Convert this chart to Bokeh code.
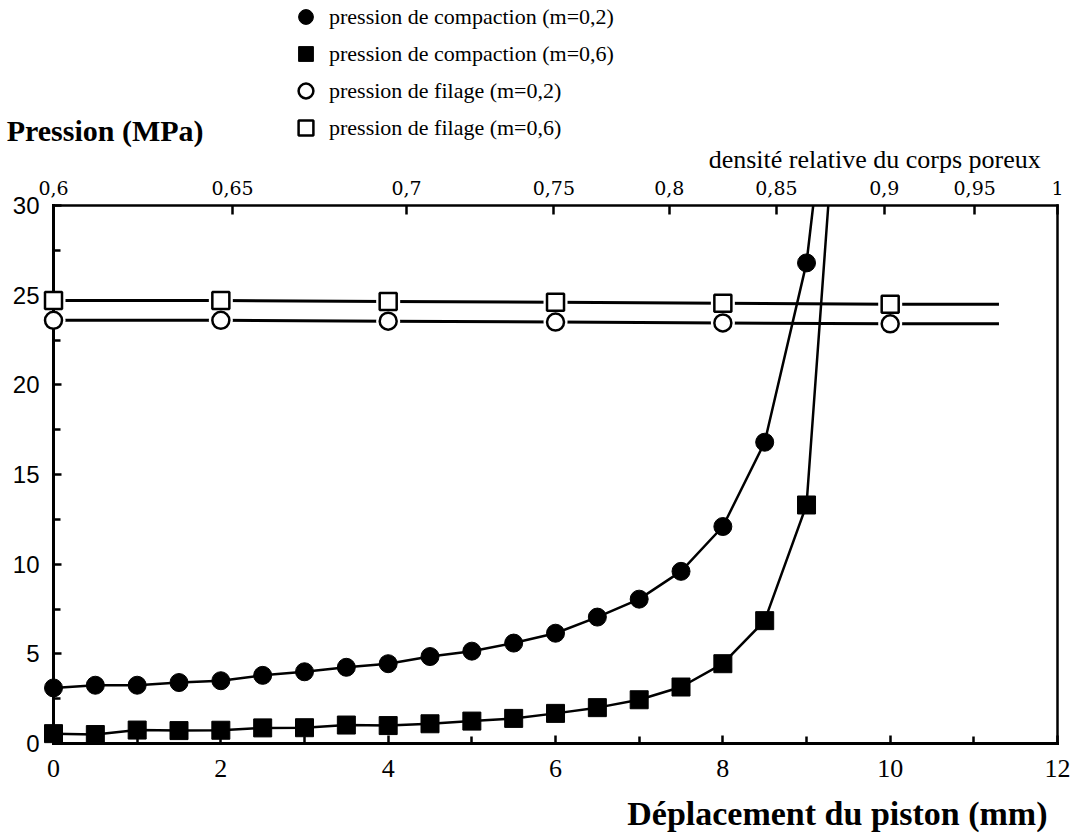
from bokeh.plotting import figure
from bokeh.models import (Range1d, LinearAxis, FixedTicker, Label, Legend,
                          LegendItem, ColumnDataSource)
from bokeh.embed import file_html
from bokeh.resources import INLINE

# ---------------- data ----------------
disp = [0, 0.5, 1, 1.5, 2, 2.5, 3, 3.5, 4, 4.5, 5, 5.5, 6, 6.5, 7, 7.5, 8, 8.5, 9]
p_comp_m02 = [3.1, 3.25, 3.25, 3.4, 3.5, 3.8, 4.0, 4.25, 4.45, 4.85, 5.15, 5.6,
              6.15, 7.05, 8.05, 9.6, 12.1, 16.8, 26.8]
p_comp_m06 = [0.55, 0.5, 0.75, 0.72, 0.74, 0.87, 0.88, 1.03, 1.0, 1.1, 1.25, 1.4,
              1.68, 2.0, 2.44, 3.15, 4.45, 6.85, 13.3]
# continuation of the compaction curves up to the top of the frame
tail_disp_m02 = [9.08]
tail_p_m02 = [30.0]
tail_disp_m06 = [9.26]
tail_p_m06 = [30.0]

disp_fil = [0, 2, 4, 6, 8, 10]
p_fil_m02 = [23.6, 23.6, 23.55, 23.5, 23.45, 23.4]
p_fil_m06 = [24.7, 24.7, 24.65, 24.6, 24.55, 24.5]
tail_disp_fil = [11.3]
tail_p_fil_m02 = [23.4]
tail_p_fil_m06 = [24.5]

x_min, x_max = 0, 12
y_min, y_max = 0, 30
x_ticks = [0, 2, 4, 6, 8, 10, 12]
x_minor = [1, 3, 5, 7, 9, 11]
y_ticks = [0, 5, 10, 15, 20, 25, 30]
y_minor = [2.5, 7.5, 12.5, 17.5, 22.5, 27.5]
dens_pos = [0, 2.14, 4.22, 5.98, 7.36, 8.64, 9.93, 11.01, 12]
dens_labels = ["0,6", "0,65", "0,7", "0,75", "0,8", "0,85", "0,9", "0,95", "1"]

legend_labels = ["pression de compaction (m=0,2)", "pression de compaction (m=0,6)",
                 "pression de filage (m=0,2)", "pression de filage (m=0,6)"]
y_title = "Pression (MPa)"
x_title = "Déplacement du piston (mm)"
top_title = "densité relative du corps poreux"

# ---------------- figure: the frame covers the whole canvas ----------------
W, H = 1070, 834
p = figure(width=W, height=H, output_backend="svg", toolbar_location=None,
           x_range=Range1d(-0.6335, 12.155), y_range=Range1d(-5.074, 41.432),
           x_axis_type=None, y_axis_type=None,
           min_border_left=0, min_border_right=0,
           min_border_top=0, min_border_bottom=0)
p.outline_line_color = None
p.background_fill_color = "white"
p.border_fill_color = "white"


def style_axis(ax):
    ax.axis_line_width = 3
    ax.axis_line_color = "black"
    ax.axis_line_cap = "square"
    ax.major_tick_in = 8
    ax.major_tick_out = 0
    ax.minor_tick_in = 7
    ax.minor_tick_out = 0
    ax.major_tick_line_width = 2.5
    ax.minor_tick_line_width = 2.5
    ax.major_label_text_color = "black"


yax = LinearAxis(ticker=FixedTicker(ticks=y_ticks, minor_ticks=y_minor),
                 fixed_location=x_min, bounds=(y_min, y_max))
style_axis(yax)
yax.major_label_text_font = "Liberation Sans"
yax.major_label_text_font_size = "24px"
yax.major_label_standoff = 14
p.add_layout(yax, "left")

rax = LinearAxis(ticker=FixedTicker(ticks=[]), fixed_location=x_max,
                 bounds=(y_min, y_max))
style_axis(rax)
rax.axis_line_width = 2.5
rax.major_label_text_alpha = 0
p.add_layout(rax, "right")

xax = LinearAxis(ticker=FixedTicker(ticks=x_ticks, minor_ticks=x_minor),
                 fixed_location=y_min, bounds=(x_min, x_max))
style_axis(xax)
xax.major_label_text_font = "Liberation Serif"
xax.major_label_text_font_size = "26px"
xax.major_label_standoff = 16
p.add_layout(xax, "below")

tax = LinearAxis(ticker=FixedTicker(ticks=dens_pos, minor_ticks=[]),
                 fixed_location=y_max, bounds=(x_min, x_max))
style_axis(tax)
tax.axis_line_width = 2.5
tax.major_tick_in = 9
tax.major_label_overrides = {pos: lab for pos, lab in zip(dens_pos, dens_labels)}
tax.major_label_text_font = "DejaVu Serif"
tax.major_label_text_font_size = "19px"
tax.major_label_standoff = 11
p.add_layout(tax, "above")

# ---------------- compaction curves (filled markers) ----------------
src_c02 = ColumnDataSource(dict(x=disp, y=p_comp_m02))
src_c06 = ColumnDataSource(dict(x=disp, y=p_comp_m06))
p.line(disp + tail_disp_m02, p_comp_m02 + tail_p_m02, line_color="black", line_width=2.5)
p.line(disp + tail_disp_m06, p_comp_m06 + tail_p_m06, line_color="black", line_width=2.5)
r_c02 = p.scatter("x", "y", source=src_c02, marker="circle", size=18,
                  fill_color="black", line_color="black", level="overlay")
r_c06 = p.scatter("x", "y", source=src_c06, marker="square", size=18,
                  fill_color="black", line_color="black", level="overlay")

# ---------------- filage lines (open markers) ----------------
src_f02 = ColumnDataSource(dict(x=disp_fil, y=p_fil_m02))
src_f06 = ColumnDataSource(dict(x=disp_fil, y=p_fil_m06))
p.line(disp_fil + tail_disp_fil, p_fil_m02 + tail_p_fil_m02, line_color="black", line_width=3)
p.line(disp_fil + tail_disp_fil, p_fil_m06 + tail_p_fil_m06, line_color="black", line_width=3)
p.scatter("x", "y", source=src_f02, marker="circle", size=24, fill_color="white", line_color=None)
p.scatter("x", "y", source=src_f06, marker="square", size=24, fill_color="white", line_color=None)
r_f02 = p.scatter("x", "y", source=src_f02, marker="circle", size=17,
                  fill_color="white", line_color="black", line_width=2.5, level="overlay")
r_f06 = p.scatter("x", "y", source=src_f06, marker="square", size=17,
                  fill_color="white", line_color="black", line_width=2.5, level="overlay")

# ---------------- legend ----------------
legend = Legend(items=[LegendItem(label=legend_labels[0], renderers=[r_c02]),
                       LegendItem(label=legend_labels[1], renderers=[r_c06]),
                       LegendItem(label=legend_labels[2], renderers=[r_f02]),
                       LegendItem(label=legend_labels[3], renderers=[r_f06])],
                location=(287, 688), orientation="vertical",
                glyph_width=37, glyph_height=37, label_height=37, spacing=0,
                label_standoff=5, padding=0, margin=0,
                border_line_alpha=0, background_fill_alpha=0,
                label_text_font="Liberation Serif", label_text_font_size="22px",
                label_text_color="black")
p.add_layout(legend, "center")

# ---------------- titles (vertically centred on their anchor) ----------------
p.add_layout(Label(x=-0.56, y=34.18, text=y_title, text_font="Liberation Serif",
                   text_font_style="bold", text_font_size="30px", text_color="black",
                   text_align="left", text_baseline="middle"))
p.add_layout(Label(x=11.8, y=32.57, text=top_title, text_font="Liberation Serif",
                   text_font_size="26px", text_color="black",
                   text_align="right", text_baseline="middle"))
p.add_layout(Label(x=11.88, y=-3.93, text=x_title, text_font="Liberation Serif",
                   text_font_style="bold", text_font_size="34px", text_color="black",
                   text_align="right", text_baseline="middle"))

open("out.html", "w").write(file_html(p, INLINE))
